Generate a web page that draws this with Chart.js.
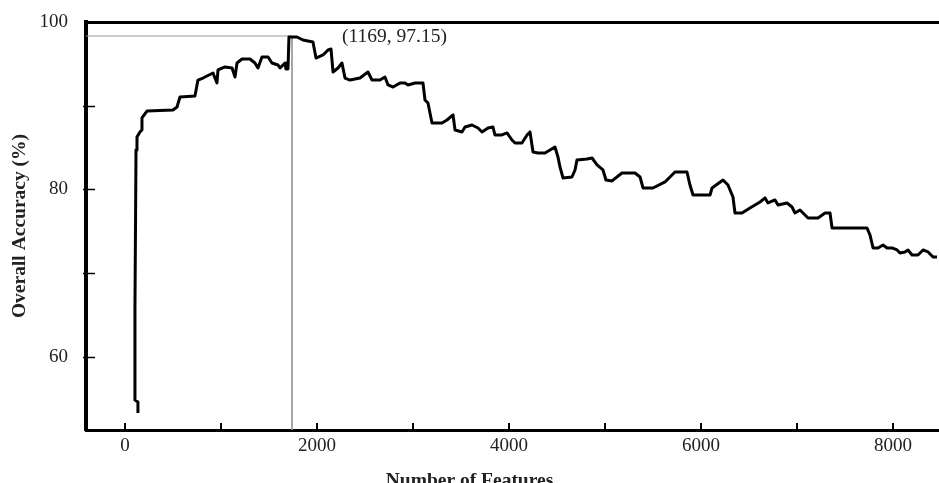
<!DOCTYPE html>
<html>
<head>
<meta charset="utf-8">
<script src="https://cdn.jsdelivr.net/npm/chart.js@4.4.0/dist/chart.umd.min.js"></script>
<style>
  html, body { margin: 0; padding: 0; background: #fff; }
  #chart { display: block; }
</style>
</head>
<body>
<canvas id="chart" width="939" height="483"></canvas>
<script>
// values
const featureCounts = [
  135, 135, 104, 104, 115, 125, 156, 177, 177, 229, 500, 542, 573, 729, 760, 813, 917, 958, 969, 1042,
  1115, 1146, 1167, 1219, 1302, 1354, 1385, 1427, 1490, 1531, 1594, 1615, 1667, 1677, 1698, 1708, 1792, 1854, 1958, 1990,
  2063, 2115, 2146, 2167, 2219, 2260, 2292, 2344, 2448, 2531, 2573, 2656, 2708, 2740, 2792, 2865, 2917, 2948, 3021, 3104,
  3125, 3156, 3198, 3302, 3354, 3417, 3438, 3510, 3542, 3615, 3677, 3719, 3781, 3833, 3854, 3927, 3979, 4031, 4063, 4135,
  4188, 4219, 4250, 4302, 4375, 4427, 4479, 4510, 4531, 4563, 4656, 4688, 4708, 4813, 4865, 4917, 4979, 5010, 5073, 5177,
  5313, 5365, 5396, 5500, 5625, 5729, 5854, 5885, 5917, 6094, 6115, 6229, 6281, 6333, 6354, 6427, 6510, 6615, 6667, 6698,
  6771, 6802, 6896, 6948, 6979, 7031, 7115, 7219, 7292, 7344, 7365, 7729, 7760, 7792, 7844, 7896, 7938, 7990, 8042, 8073,
  8125, 8156, 8198, 8260, 8313, 8365, 8417, 8458
];
const accuracy = [
  53.31, 54.63, 54.86, 65.97, 84.72, 86.27, 86.87, 87.10, 88.54, 89.37, 89.49, 89.85, 91.04, 91.16, 93.07, 93.31, 93.91, 92.72, 94.27, 94.63,
  94.51, 93.43, 95.10, 95.58, 95.58, 95.10, 94.51, 95.82, 95.82, 95.10, 94.87, 94.51, 95.10, 94.39, 94.39, 98.21, 98.21, 97.85, 97.61, 95.70,
  96.06, 96.66, 96.78, 94.03, 94.51, 95.10, 93.31, 93.07, 93.31, 94.03, 93.07, 93.07, 93.43, 92.48, 92.24, 92.72, 92.72, 92.48, 92.72, 92.72,
  90.69, 90.33, 87.94, 87.94, 88.30, 88.90, 87.10, 86.87, 87.46, 87.70, 87.34, 86.87, 87.34, 87.46, 86.51, 86.51, 86.75, 85.91, 85.55, 85.55,
  86.51, 86.87, 84.48, 84.36, 84.36, 84.72, 85.07, 83.88, 82.69, 81.37, 81.49, 82.33, 83.52, 83.64, 83.76, 82.93, 82.33, 81.13, 81.02, 81.97,
  81.97, 81.49, 80.18, 80.18, 80.90, 82.09, 82.09, 80.54, 79.34, 79.34, 80.18, 81.13, 80.54, 79.10, 77.19, 77.19, 77.79, 78.51, 78.99, 78.39,
  78.75, 78.15, 78.39, 77.91, 77.19, 77.55, 76.60, 76.60, 77.19, 77.19, 75.40, 75.40, 74.57, 73.02, 73.02, 73.37, 73.02, 73.02, 72.78, 72.42,
  72.54, 72.78, 72.18, 72.18, 72.78, 72.54, 71.94, 71.94
];
const xTickValues = [0, 1000, 2000, 3000, 4000, 5000, 6000, 7000, 8000];
const yTickValues = [60, 70, 80, 90, 100];
const guideX = [-406, 1740, 1740];
const guideY = [98.33, 98.33, 51.28];
const guideLabel = '(1169, 97.15)';

const serif = '"Liberation Serif", "Times New Roman", serif';
const textColor = '#222';

const framePlugin = {
  id: 'frame',
  afterDraw(chart) {
    const { ctx, chartArea: a, scales } = chart;
    ctx.save();
    ctx.strokeStyle = '#000';
    // top frame line
    ctx.lineWidth = 3;
    ctx.beginPath();
    ctx.moveTo(a.left - 2, a.top + 0.5);
    ctx.lineTo(a.right, a.top + 0.5);
    ctx.stroke();
    // inward tick marks
    ctx.lineWidth = 2;
    xTickValues.forEach(v => {
      const x = Math.round(scales.x.getPixelForValue(v));
      ctx.beginPath();
      ctx.moveTo(x, a.bottom);
      ctx.lineTo(x, a.bottom - 7);
      ctx.stroke();
    });
    ctx.lineWidth = 1.5;
    yTickValues.forEach(v => {
      if (v === 100) return;
      const y = Math.round(scales.y.getPixelForValue(v)) + 0.5;
      ctx.beginPath();
      ctx.moveTo(a.left - 3, y);
      ctx.lineTo(a.left + 9, y);
      ctx.stroke();
    });
    // annotation
    ctx.fillStyle = textColor;
    ctx.font = '19.5px ' + serif;
    ctx.textBaseline = 'middle';
    ctx.textAlign = 'left';
    ctx.fillText(guideLabel, scales.x.getPixelForValue(guideX[1]) + 50, scales.y.getPixelForValue(guideY[1]) + 1);
    ctx.restore();
  }
};

new Chart(document.getElementById('chart'), {
  type: 'line',
  data: {
    datasets: [
      {
        data: featureCounts.map((x, i) => ({ x: x, y: accuracy[i] })),
        borderColor: '#000',
        borderWidth: 3,
        borderJoinStyle: 'round',
        pointRadius: 0,
        tension: 0,
        order: 0
      },
      {
        data: guideX.map((x, i) => ({ x: x, y: guideY[i] })),
        borderColor: '#9a9a9a',
        borderWidth: 1,
        pointRadius: 0,
        tension: 0,
        order: 1
      }
    ]
  },
  options: {
    responsive: false,
    animation: false,
    layout: { padding: { top: 22, left: 0, right: 0, bottom: 0 } },
    plugins: {
      legend: { display: false },
      tooltip: { enabled: false },
      title: {
        display: true,
        position: 'bottom',
        text: 'Number of Features',
        color: textColor,
        font: { family: serif, size: 19.5, weight: 'bold' },
        padding: { top: 10, bottom: -10 }
      }
    },
    scales: {
      x: {
        type: 'linear',
        min: -406,
        max: 8479,
        afterBuildTicks: s => { s.ticks = xTickValues.map(v => ({ value: v })); },
        afterFit: s => { s.height = 483 - 430 - 23.4; s.paddingLeft = 0; s.paddingRight = 0; },
        ticks: {
          autoSkip: false,
          maxRotation: 0,
          padding: 5,
          color: textColor,
          font: { family: serif, size: 19 },
          callback: v => (v % 2000 === 0 ? String(v) : '')
        },
        grid: { display: false, drawTicks: false },
        border: { display: true, color: '#000', width: 3 }
      },
      y: {
        min: 51.28,
        max: 100,
        afterBuildTicks: s => { s.ticks = yTickValues.map(v => ({ value: v })); },
        afterFit: s => { s.width = 86; s.paddingTop = 0; s.paddingBottom = 0; },
        ticks: {
          autoSkip: false,
          padding: 18,
          color: textColor,
          font: { family: serif, size: 19 },
          callback: v => (v % 20 === 0 ? String(v) : '')
        },
        grid: { display: false, drawTicks: false },
        border: { display: true, color: '#000', width: 4 },
        title: {
          display: true,
          text: 'Overall Accuracy (%)',
          color: textColor,
          font: { family: serif, size: 19.5, weight: 'bold' },
          padding: { top: 8, bottom: 0 }
        }
      }
    }
  },
  plugins: [framePlugin]
});
</script>
</body>
</html>
